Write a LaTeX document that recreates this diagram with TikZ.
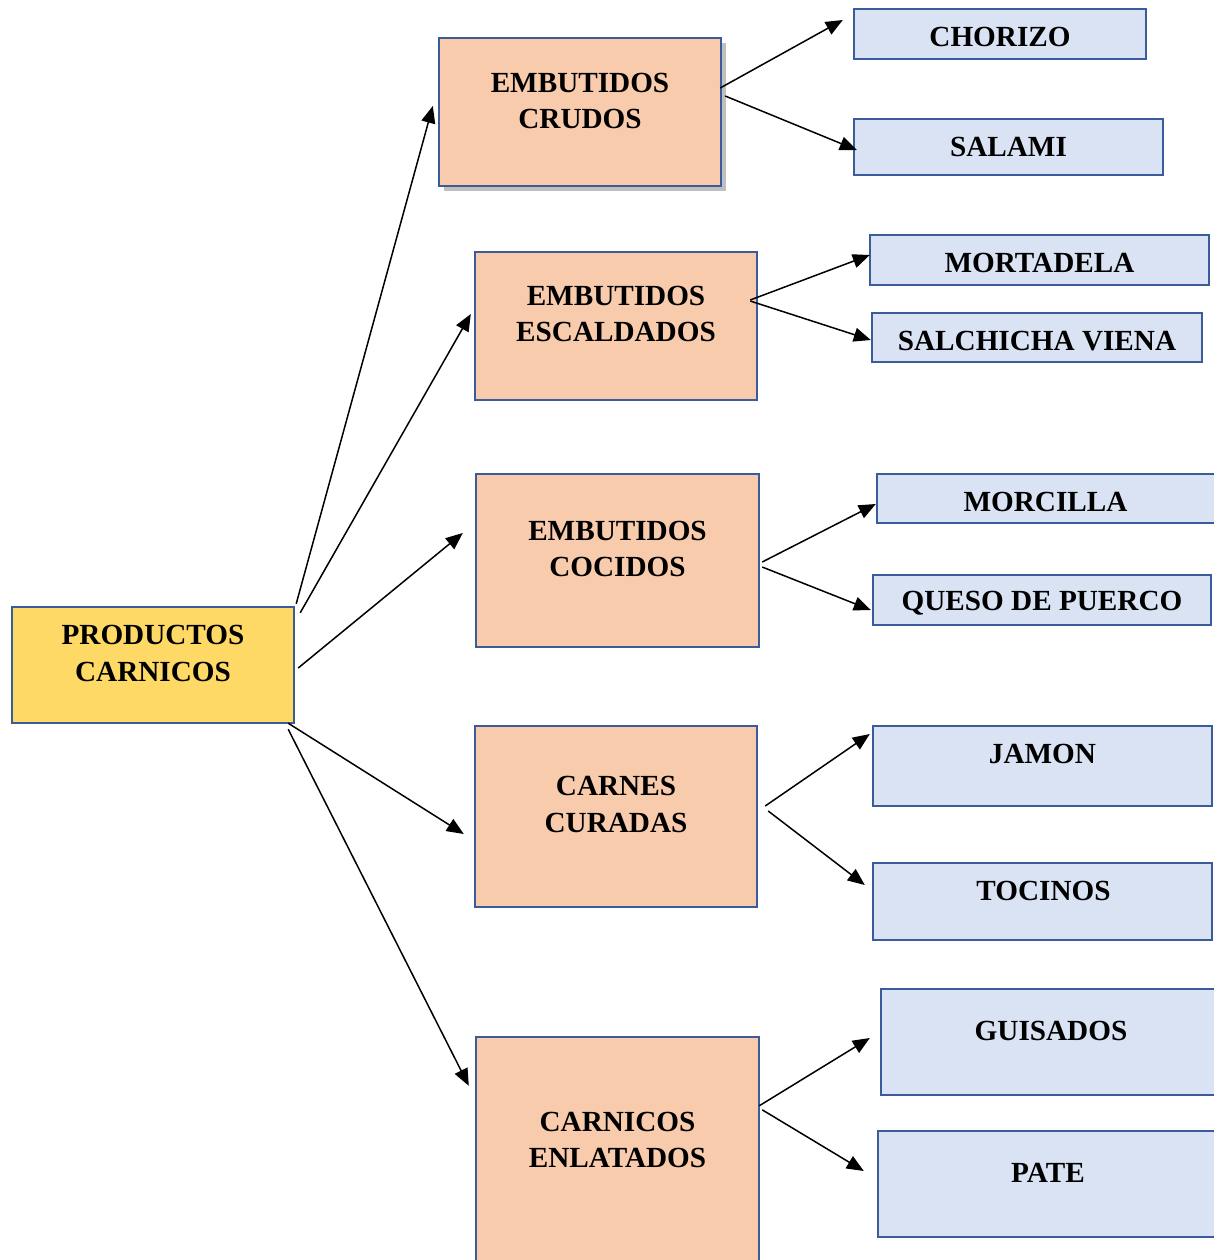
\documentclass[tikz,border=0pt]{standalone}
\usepackage{fontspec}
\setmainfont{Liberation Serif}
\usetikzlibrary{arrows.meta,calc,fit,shadows}
\definecolor{bordc}{HTML}{3B5C9A}
\definecolor{yel}{HTML}{FFD966}
\definecolor{peach}{HTML}{F8CBAD}
\definecolor{lblue}{HTML}{DAE3F3}
\begin{document}
\begin{tikzpicture}[x=0.5pt,y=-0.5pt,
 box/.style={draw=bordc,line width=1.2pt,inner sep=0pt},
 rootbox/.style={box,fill=yel},
 midbox/.style={box,fill=peach},
 leafbox/.style={box,fill=lblue},
 lbl/.style={font=\fontsize{14.6}{18.3}\selectfont\bfseries,align=center,inner sep=0pt},
 conn/.style={line width=0.75pt,-{Triangle[length=8.5pt,width=7pt]}}]
\useasboundingbox (0,0) rectangle (1214,1260);
\clip (0,0) rectangle (1214,1260);
% root
\node[rootbox,fit={(12,607)(294,723)}] (pc) {};
\node[lbl] (pct) at (153,653.5) {PRODUCTOS\\CARNICOS};
% middle
\node[midbox,fit={(439,38)(721,186)},drop shadow={shadow xshift=2.5pt,shadow yshift=-2.5pt,fill=black,opacity=0.25}] (cr) {};
\node[lbl] (crt) at (580,101) {EMBUTIDOS\\CRUDOS};
\node[midbox,fit={(475,252)(757,400)}] (es) {};
\node[lbl] (est) at (616,314) {EMBUTIDOS\\ESCALDADOS};
\node[midbox,fit={(476,474)(759,647)}] (co) {};
\node[lbl] (cot) at (617.5,549) {EMBUTIDOS\\COCIDOS};
\node[midbox,fit={(475,726)(757,907)}] (cu) {};
\node[lbl] (cut) at (616,804.5) {CARNES\\CURADAS};
\node[midbox,fit={(476,1037)(759,1290)}] (en) {};
\node[lbl] (ent) at (617.5,1140) {CARNICOS\\ENLATADOS};
% leaves
\node[leafbox,fit={(854,9)(1146,59)}] (ch) {};
\node[lbl] (cht) at (1000,37) {CHORIZO};
\node[leafbox,fit={(854,119)(1163,175)}] (sa) {};
\node[lbl] (sat) at (1008.5,147) {SALAMI};
\node[leafbox,fit={(870,235)(1209,285)}] (mo) {};
\node[lbl] (mot) at (1039.5,263) {MORTADELA};
\node[leafbox,fit={(872,313)(1202,362)}] (sv) {};
\node[lbl] (svt) at (1037,341) {SALCHICHA VIENA};
\node[leafbox,fit={(877,474)(1216,523)}] (mc) {};
\node[lbl] (mct) at (1045.5,502) {MORCILLA};
\node[leafbox,fit={(873,575)(1211,625)}] (qp) {};
\node[lbl] (qpt) at (1042,603) {QUESO DE PUERCO};
\node[leafbox,fit={(873,726)(1212,806)}] (ja) {};
\node[lbl] (jat) at (1042.5,754) {JAMON};
\node[leafbox,fit={(873,863)(1212,940)}] (to) {};
\node[lbl] (tot) at (1043.5,891) {TOCINOS};
\node[leafbox,fit={(881,989)(1221,1095)}] (gu) {};
\node[lbl] (gut) at (1051,1031) {GUISADOS};
\node[leafbox,fit={(878,1131)(1218,1237)}] (pa) {};
\node[lbl] (pat) at (1048,1173) {PATE};
% connectors root -> middle
\draw[conn] ($(pc.north east)+(1,-2)$) -- ($(cr.west)+(-5,-6)$);
\draw[conn] ($(pc.north east)+(5,7)$) -- ($(es.west)+(-3,-12)$);
\draw[conn] ($(pc.east)+(3,3)$) -- ($(co.west)+(-12,-27.5)$);
\draw[conn] ($(pc.south east)+(-7,-1)$) -- ($(cu.west)+(-10,17.5)$);
\draw[conn] ($(pc.south east)+(-7,5)$) -- ($(en.north west)+(-6,50)$);
% middle -> leaves
\draw[conn] ($(cr.east)+(-2,-24)$) -- ($(ch.west)+(-10,-14)$);
\draw[conn] ($(cr.east)+(3,-16)$) -- ($(sa.west)+(4,3)$);
\draw[conn] ($(es.east)+(-8,-26)$) -- ($(mo.west)+(1,-5)$);
\draw[conn] ($(es.east)+(-8,-25)$) -- ($(sv.west)+(0,2.5)$);
\draw[conn] ($(co.east)+(2,1.5)$) -- ($(mc.west)+(0,5.5)$);
\draw[conn] ($(co.east)+(2,6.5)$) -- ($(qp.west)+(-1,10)$);
\draw[conn] ($(cu.east)+(7,-10.5)$) -- ($(ja.west)+(-2,-32)$);
\draw[conn] ($(cu.east)+(10,-5.5)$) -- ($(to.west)+(-7,-16.5)$);
\draw[conn] ($(en.north east)+(-1,70)$) -- ($(gu.west)+(-10,-4)$);
\draw[conn] ($(en.north east)+(2,74)$) -- ($(pa.west)+(-13,-13)$);
\end{tikzpicture}
\end{document}
